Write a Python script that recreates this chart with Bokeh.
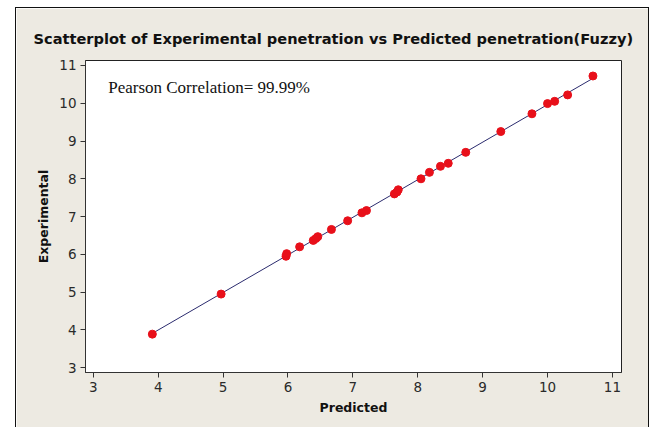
import numpy as np
from bokeh.plotting import figure
from bokeh.models import Range1d, FixedTicker, Label, Spacer
from bokeh.layouts import row, column
from bokeh.embed import file_html
from bokeh.resources import INLINE

# Data
predicted = [3.91, 4.97, 5.97, 5.98, 6.18, 6.39, 6.43, 6.46, 6.67, 6.92,
             7.14, 7.21, 7.64, 7.68, 7.70, 8.05, 8.18, 8.35, 8.47, 8.74,
             9.28, 9.76, 10.00, 10.11, 10.31, 10.70]
experimental = [3.89, 4.95, 5.95, 6.02, 6.20, 6.37, 6.42, 6.47, 6.66, 6.89,
                7.10, 7.16, 7.60, 7.65, 7.71, 8.00, 8.17, 8.33, 8.41, 8.70,
                9.25, 9.72, 9.99, 10.05, 10.22, 10.72]
tick_values = [3, 4, 5, 6, 7, 8, 9, 10, 11]
title_text = "Scatterplot of Experimental penetration vs Predicted penetration(Fuzzy)"
annotation_text = "Pearson Correlation= 99.99%"

BG = "#EDEAE2"

p = figure(width=632, height=419, output_backend="svg", toolbar_location=None,
           x_range=Range1d(2.88, 11.14), y_range=Range1d(2.875, 11.13),
           min_border_left=69, min_border_right=27, min_border_top=52, min_border_bottom=55)
p.background_fill_color = "white"
p.border_fill_color = BG
p.outline_line_color = "#222222"
p.outline_line_width = 1
p.grid.visible = False

p.title.text = title_text
p.title.align = "left"
p.title.offset = -52
p.title.text_font = "DejaVu Sans"
p.title.text_font_size = "14.6px"
p.title.text_font_style = "bold"
p.title.text_color = "#111111"
p.title.standoff = 28

for ax in (p.xaxis[0], p.yaxis[0]):
    ax.ticker = FixedTicker(ticks=tick_values, minor_ticks=[])
    ax.major_tick_out = 5
    ax.major_tick_in = 0
    ax.minor_tick_out = 0
    ax.minor_tick_in = 0
    ax.axis_line_color = "#333333"
    ax.major_tick_line_color = "#333333"
    ax.major_label_text_font = "DejaVu Sans"
    ax.major_label_text_font_size = "13.5px"
    ax.major_label_text_color = "#2a2a2a"
    ax.axis_label_text_font = "DejaVu Sans"
    ax.axis_label_text_font_size = "12.5px"
    ax.axis_label_text_font_style = "bold"
    ax.axis_label_text_color = "#111111"
    ax.major_label_standoff = 4

p.xaxis.axis_label = "Predicted"
p.yaxis.axis_label = "Experimental"
p.xaxis.axis_label_standoff = 5
p.yaxis.axis_label_standoff = 5

# Regression line
coef = np.polyfit(predicted, experimental, 1)
xl = [min(predicted), max(predicted)]
yl = [coef[0] * v + coef[1] for v in xl]
p.line(xl, yl, line_color="#2B2B6E", line_width=1)

p.scatter(predicted, experimental, size=8, fill_color="#E8101A", line_color="#E8101A")

p.add_layout(Label(x=3.23, y=10.42, text=annotation_text, text_font="Liberation Serif",
                   text_font_size="17px", text_color="#111111", text_baseline="alphabetic"))

line_style = {"background-color": "#111111"}
top_line = Spacer(width=634, height=1, styles=line_style)
left_line = Spacer(width=1, height=419, styles=line_style)
right_line = Spacer(width=1, height=419, styles=line_style)

layout = column(Spacer(width=10, height=7),
                row(Spacer(width=15, height=10),
                    column(top_line, row(left_line, p, right_line))))
open("out.html", "w").write(file_html(layout, INLINE))
